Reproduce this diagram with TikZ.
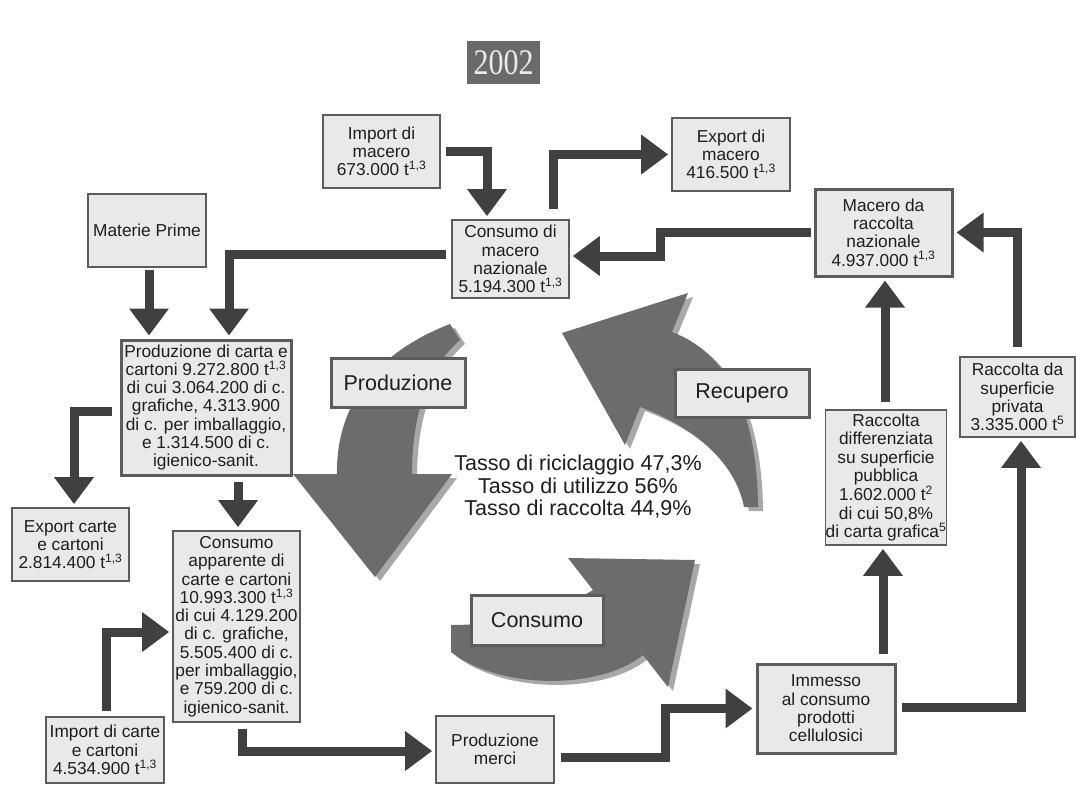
\documentclass[tikz,border=0pt]{standalone}
\usepackage{fontspec}
\usepackage{graphicx}
\setmainfont{Liberation Sans}
\newfontfamily\titlefont{Liberation Serif}
\usetikzlibrary{arrows.meta}
\definecolor{boxfill}{HTML}{E9E9E9}
\definecolor{boxline}{HTML}{5C5C5C}
\definecolor{conncol}{HTML}{404040}
\definecolor{bigarrow}{HTML}{6C6C6C}
\definecolor{shadowcol}{HTML}{A8A8A8}
\definecolor{titlefill}{HTML}{6A6A6A}
\definecolor{txt}{HTML}{1E1E1E}
\begin{document}
\begin{tikzpicture}[x=1pt,y=-1pt,
 infobox/.style={draw=boxline, line width=1.6pt, fill=boxfill, align=center, inner sep=0pt, text=txt, font=\fontsize{17.3}{18.3}\selectfont},
 thickbox/.style={infobox, line width=3pt},
 cyclelabel/.style={thickbox, font=\fontsize{21.5}{24}\selectfont},
 conn/.style={draw=conncol, line width=9pt, -{Triangle[width=38pt,length=27pt]}, shorten >=3pt},
 bigfill/.style={fill=bigarrow},
 shadowfill/.style={fill=shadowcol}
]
\useasboundingbox (0,0) rectangle (1076,785);
\fill[white] (0,0) rectangle (1076,785);

% ---- big cycle arrows: shadows ----
\begin{scope}[xshift=5pt,yshift=-4pt]
\fill[shadowfill] (450,324) -- (460,340) .. controls (425,370) and (412,420) .. (412,474) -- (452,474) -- (375,577) -- (293,474) -- (337,474) .. controls (336,410) and (370,355) .. (450,324) -- cycle;
\fill[shadowfill] (744,507) .. controls (735,460) and (690,425) .. (640,407) -- (625,445) -- (562,333) -- (688,293) -- (672,332) .. controls (720,350) and (757,400) .. (758,507) -- cycle;
\fill[shadowfill] (451,625) .. controls (510,625) and (560,610) .. (593,590) -- (568,558) -- (695,560) -- (668,687) -- (643,655) .. controls (600,690) and (500,690) .. (451,652) -- cycle;
\end{scope}
% ---- big cycle arrows ----
\fill[bigfill] (450,324) -- (460,340) .. controls (425,370) and (412,420) .. (412,474) -- (452,474) -- (375,577) -- (293,474) -- (337,474) .. controls (336,410) and (370,355) .. (450,324) -- cycle;
\fill[bigfill] (744,507) .. controls (735,460) and (690,425) .. (640,407) -- (625,445) -- (562,333) -- (688,293) -- (672,332) .. controls (720,350) and (757,400) .. (758,507) -- cycle;
\fill[bigfill] (451,625) .. controls (510,625) and (560,610) .. (593,590) -- (568,558) -- (695,560) -- (668,687) -- (643,655) .. controls (600,690) and (500,690) .. (451,652) -- cycle;

% ---- title ----
\node[fill=titlefill, minimum width=73pt, minimum height=43pt, inner sep=0pt, text=white!92!black, font=\titlefont\fontsize{30}{30}\selectfont] (title) at (503.5,62.5) {\scalebox{1}[1.2]{2002}};

% ---- boxes ----
\node[infobox, minimum width=117pt, minimum height=73pt] (impm) at (381.5,151.5) {Import di\\macero\\673.000 t\textsuperscript{1,3}};
\node[infobox, minimum width=118pt, minimum height=73pt] (expm) at (731,154.5) {Export di\\macero\\416.500 t\textsuperscript{1,3}};
\node[infobox, minimum width=117pt, minimum height=78pt] (cmn) at (510.5,259) {Consumo di\\macero\\nazionale\\5.194.300 t\textsuperscript{1,3}};
\node[infobox, minimum width=118pt, minimum height=73pt] (mp) at (147,230.5) {Materie Prime};
\node[thickbox, minimum width=170pt, minimum height=135pt] (prod) at (206,407.5) {Produzione di carta e\\cartoni 9.272.800 t\textsuperscript{1,3}\\di cui 3.064.200 di c.\\grafiche, 4.313.900\\di c. per imballaggio,\\e 1.314.500 di c.\\igienico-sanit.};
\node[infobox, minimum width=117pt, minimum height=73pt] (expc) at (70.5,544.5) {Export carte\\e cartoni\\2.814.400 t\textsuperscript{1,3}};
\node[infobox, minimum width=127pt, minimum height=191pt] (capp) at (236.5,626.5) {Consumo\\apparente di\\carte e cartoni\\10.993.300 t\textsuperscript{1,3}\\di cui 4.129.200\\di c. grafiche,\\5.505.400 di c.\\per imballaggio,\\e 759.200 di c.\\igienico-sanit.};
\node[infobox, minimum width=118pt, minimum height=66pt] (impc) at (105,750) {Import di carte\\e cartoni\\4.534.900 t\textsuperscript{1,3}};
\node[infobox, minimum width=118pt, minimum height=67pt] (pm) at (495,749.5) {Produzione\\merci};
\node[thickbox, minimum width=138pt, minimum height=89pt] (imm) at (826,708.5) {Immesso\\al consumo\\prodotti\\cellulosici};
\node[thickbox, minimum width=137pt, minimum height=87pt] (mrn) at (883.5,232.5) {Macero da\\raccolta\\nazionale\\4.937.000 t\textsuperscript{1,3}};
\node[infobox, minimum width=120pt, minimum height=135pt] (rdiff) at (886,477.5) {Raccolta\\differenziata\\su superficie\\pubblica\\1.602.000 t\textsuperscript{2}\\di cui 50,8\%\\di carta grafica\textsuperscript{5}};
\node[infobox, minimum width=115pt, minimum height=80pt] (rpriv) at (1017.5,397) {Raccolta da\\superficie\\privata\\3.335.000 t\textsuperscript{5}};

% ---- cycle labels ----
\node[cyclelabel, minimum width=134pt, minimum height=49pt] (lprod) at (398,382.5) {Produzione};
\node[cyclelabel, minimum width=134pt, minimum height=48pt] (lrec) at (742,393) {Recupero};
\node[cyclelabel, minimum width=132pt, minimum height=50pt] (lcons) at (537,620) {Consumo};

% ---- centre text ----
\node[align=center, text=txt, font=\fontsize{21.5}{22.5}\selectfont] (rates) at (578,487) {Tasso di riciclaggio 47,3\%\\Tasso di utilizzo 56\%\\Tasso di raccolta 44,9\%};

% ---- connectors ----
\draw[conn] ([xshift=5pt]impm.east) -| ([xshift=-23.5pt]cmn.north);
\draw[conn] ([xshift=42.5pt,yshift=10pt]cmn.north) |- (expm.west);
\draw[conn] ([xshift=-3pt]mrn.west) -- (660,232.5) -- (660,256) -- ([yshift=3pt]cmn.east);
\draw[conn] ([xshift=-5pt,yshift=5pt]cmn.west) -| ([xshift=23pt]prod.north);
\draw[conn] ([xshift=2pt,yshift=-2pt]mp.south) -- ([xshift=-57pt]prod.north);
\draw[conn] ([xshift=-8pt,yshift=-3.5pt]prod.west) -| ([xshift=3.5pt]expc.north);
\draw[conn] ([xshift=32pt,yshift=-5pt]prod.south) -- ([xshift=1.5pt]capp.north);
\draw[conn] ([xshift=1pt,yshift=5pt]impc.north) |- ([yshift=-5.5pt]capp.west);
\draw[conn] ([xshift=5.5pt,yshift=-6pt]capp.south) |- ([yshift=-1.5pt]pm.west);
\draw[conn] ([xshift=6pt,yshift=-7.5pt]pm.east) -- ++(105,0) |- (imm.west);
\draw[conn] ([xshift=57pt,yshift=9pt]imm.north) -- ([xshift=-3pt]rdiff.south);
\draw[conn] ([xshift=5pt,yshift=1.5pt]imm.east) -| ([xshift=3.5pt]rpriv.south);
\draw[conn] ([xshift=-1pt,yshift=7pt]rdiff.north) -- ([xshift=1.5pt]mrn.south);
\draw[conn] ([xshift=-0.5pt,yshift=9pt]rpriv.north) |- (mrn.east);
\end{tikzpicture}
\end{document}
